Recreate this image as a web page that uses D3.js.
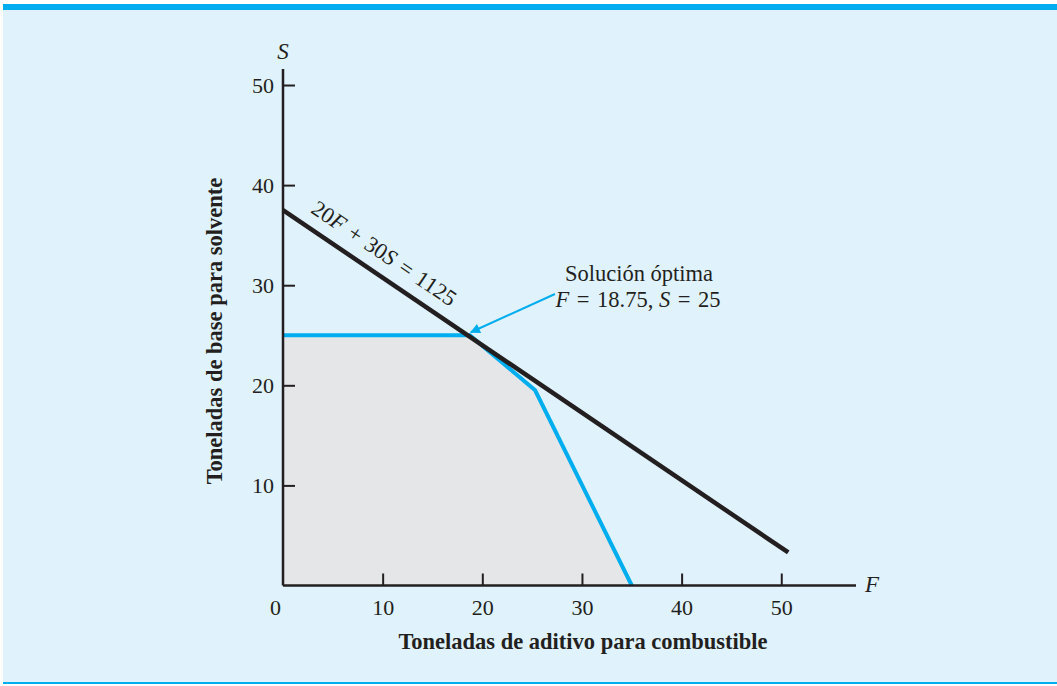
<!DOCTYPE html>
<html lang="es">
<head>
<meta charset="UTF-8">
<title>Solución óptima</title>
<script src="https://d3js.org/d3.v7.min.js"></script>
<style>
  body { margin: 0; background: #fff; }
  svg { display: block; font-family: "Liberation Serif", "Times New Roman", serif; }
</style>
</head>
<body>
<svg id="chart" width="1057" height="686"></svg>
<script>
// data
const xTicks = [0, 10, 20, 30, 40, 50];
const yTicks = [10, 20, 30, 40, 50];
const feasible = [[0, 0], [0, 25], [18.75, 25], [25.3, 19.5], [35, 0]];
const objLine = [[0, 37.5], [50.7, 3.3]];
const optimum = [18.75, 25];

const svg = d3.select("#chart");
const blue = "#00aeef", ink = "#231f20";

// background panel + rules
svg.append("rect").attr("x", 3).attr("y", 4).attr("width", 1054).attr("height", 680).attr("fill", "#e0f2fc");
svg.append("rect").attr("x", 3).attr("y", 4).attr("width", 1054).attr("height", 6).attr("fill", blue);
svg.append("rect").attr("x", 3).attr("y", 682).attr("width", 1054).attr("height", 2).attr("fill", blue);

const x = d3.scaleLinear().domain([0, 57.5]).range([283, 856]);
const y = d3.scaleLinear().domain([0, 51.6]).range([585.5, 69]);

// feasible region
svg.append("path")
  .datum(feasible)
  .attr("d", d3.line().x(d => x(d[0])).y(d => y(d[1])))
  .attr("fill", "#e5e6e8");

// constraint boundary (blue)
svg.append("path")
  .datum(feasible.slice(1))
  .attr("d", d3.line().x(d => x(d[0])).y(d => y(d[1])))
  .attr("fill", "none").attr("stroke", blue).attr("stroke-width", 4)
  .attr("stroke-linejoin", "miter");

// axes
const xAxis = svg.append("g").attr("transform", `translate(0,${y(0)})`)
  .call(d3.axisBottom(x).tickValues(xTicks).tickSize(-12).tickPadding(14).tickFormat(d3.format("d")));
const yAxis = svg.append("g").attr("transform", `translate(${x(0)},0)`)
  .call(d3.axisLeft(y).tickValues(yTicks).tickSize(-12).tickPadding(9).tickFormat(d3.format("d")));
[xAxis, yAxis].forEach(g => {
  g.select(".domain").attr("stroke", ink).attr("stroke-width", 2.5);
  g.selectAll(".tick line").attr("stroke", ink).attr("stroke-width", 2);
  g.selectAll(".tick text").attr("fill", ink).attr("font-size", 22).attr("font-family", "Liberation Serif");
});
xAxis.selectAll(".tick").filter(d => d === 0).select("line").remove();
xAxis.selectAll(".tick").filter(d => d === 0).select("text").attr("x", -8);
xAxis.select(".domain").attr("d", `M${x(0)},0H${x(57.5)}`);
yAxis.select(".domain").attr("d", `M0,${y(0)}V${y(51.6)}`);

// objective line
svg.append("path")
  .datum(objLine)
  .attr("d", d3.line().x(d => x(d[0])).y(d => y(d[1])))
  .attr("stroke", ink).attr("stroke-width", 4.5).attr("fill", "none");

// rotated label along the line
const lx = 9.0, ly = (1125 - 20 * lx) / 30;
const ang = Math.atan2(y(objLine[1][1]) - y(objLine[0][1]), x(objLine[1][0]) - x(objLine[0][0])) * 180 / Math.PI;
const lbl = svg.append("text")
  .attr("transform", `translate(${x(lx)},${y(ly)}) rotate(${ang}) translate(0,-13)`)
  .attr("text-anchor", "middle").attr("font-size", 22.5).attr("fill", ink);
lbl.append("tspan").text("20");
lbl.append("tspan").attr("font-style", "italic").text("F");
lbl.append("tspan").text("\u2004+\u200430");
lbl.append("tspan").attr("font-style", "italic").text("S");
lbl.append("tspan").text("\u2004=\u20041125");

// axis variable letters
svg.append("text").attr("x", 283).attr("y", 59).attr("text-anchor", "middle")
  .attr("font-size", 23).attr("font-style", "italic").attr("fill", ink).text("S");
svg.append("text").attr("x", 865).attr("y", 592).attr("font-size", 23)
  .attr("font-style", "italic").attr("fill", ink).text("F");

// axis titles
svg.append("text").attr("transform", "translate(222,331) rotate(-90)")
  .attr("text-anchor", "middle").attr("font-size", 22.5).attr("font-weight", "bold")
  .attr("fill", ink).text("Toneladas de base para solvente");
svg.append("text").attr("x", 583).attr("y", 649)
  .attr("text-anchor", "middle").attr("font-size", 22.5).attr("font-weight", "bold")
  .attr("fill", ink).text("Toneladas de aditivo para combustible");

// annotation
svg.append("defs").append("marker")
  .attr("id", "ah").attr("viewBox", "0 0 10 10").attr("refX", 9).attr("refY", 5)
  .attr("markerWidth", 13).attr("markerHeight", 10).attr("markerUnits", "userSpaceOnUse")
  .attr("orient", "auto")
  .append("path").attr("d", "M0,0L10,5L0,10z").attr("fill", blue);
svg.append("line")
  .attr("x1", 555).attr("y1", 294).attr("x2", x(optimum[0]) + 1).attr("y2", y(optimum[1]) - 3)
  .attr("stroke", blue).attr("stroke-width", 2).attr("marker-end", "url(#ah)");

svg.append("text").attr("x", 639).attr("y", 281).attr("text-anchor", "middle")
  .attr("font-size", 22.5).attr("fill", ink).text("Solución óptima");
const ann = svg.append("text").attr("x", 638).attr("y", 307).attr("text-anchor", "middle")
  .attr("font-size", 22.5).attr("fill", ink);
ann.append("tspan").attr("font-style", "italic").text("F");
ann.append("tspan").text("\u2004=\u200418.75, ");
ann.append("tspan").attr("font-style", "italic").text("S");
ann.append("tspan").text("\u2004=\u200425");
</script>
</body>
</html>
